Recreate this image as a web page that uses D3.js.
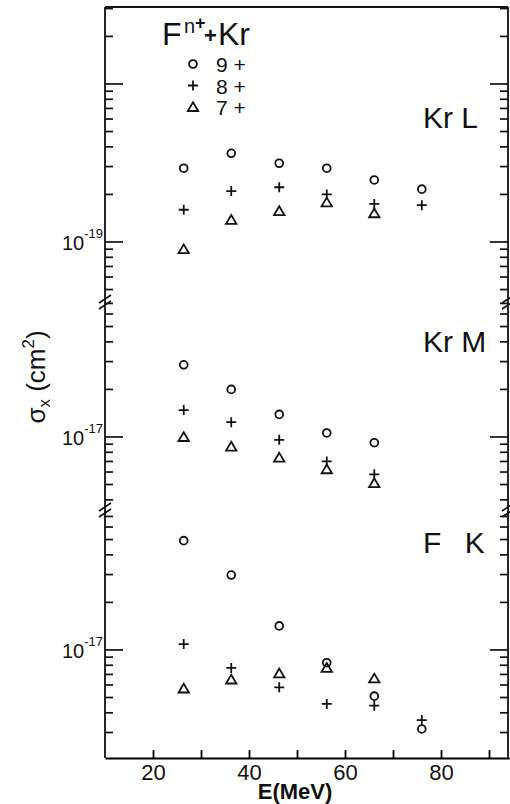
<!DOCTYPE html>
<html>
<head>
	<meta charset="utf-8">
	<style>
		body { margin: 0; background: #fff; }
		text { font-family: 'Liberation Sans', Arial, sans-serif; fill: #111; }
	</style>
</head>
<body>

	<div id="graph"></div>

	<script src="https://cdnjs.cloudflare.com/ajax/libs/d3/7.8.5/d3.min.js"></script>

	<script>
		// beam energies (MeV)
		const energies = [26.4, 36.3, 46.3, 56.2, 66.1, 76.0];

		// cross sections (cm^2), per charge state 9+, 8+, 7+
		const krL9 = [2.93e-19, 3.64e-19, 3.15e-19, 2.93e-19, 2.47e-19, 2.16e-19];
		const krL8 = [1.60e-19, 2.10e-19, 2.22e-19, 2.00e-19, 1.74e-19, 1.71e-19];
		const krL7 = [0.90e-19, 1.38e-19, 1.57e-19, 1.78e-19, 1.52e-19, null];

		const krM9 = [2.86e-17, 2.00e-17, 1.39e-17, 1.06e-17, 0.92e-17, null];
		const krM8 = [1.48e-17, 1.24e-17, 0.96e-17, 0.70e-17, 0.58e-17, null];
		const krM7 = [1.00e-17, 0.87e-17, 0.74e-17, 0.625e-17, 0.51e-17, null];

		const fK9 = [4.92e-17, 2.98e-17, 1.42e-17, 0.83e-17, 0.51e-17, 0.316e-17];
		const fK8 = [1.09e-17, 0.77e-17, 0.58e-17, 0.455e-17, 0.444e-17, 0.36e-17];
		const fK7 = [0.57e-17, 0.65e-17, 0.71e-17, 0.77e-17, 0.66e-17, null];

		const chargeStates = ['9 +', '8 +', '7 +'];
		const panelNames = ['Kr L', 'Kr M', 'F\u2002 K'];
		const panelSeries = [[krL9, krL8, krL7], [krM9, krM8, krM7], [fK9, fK8, fK7]];
		const panelExponents = ['-19', '-17', '-17'];
		const panelLabelValues = [1e-19, 1e-17, 1e-17];
		const panelDomains = [[4.17e-20, 3.07e-18], [3.45e-18, 7.15e-17], [2.07e-18, 7.69e-17]];

		const xTicks = [20, 30, 40, 50, 60, 70, 80, 90];
		const xTickLabels = [20, 40, 60, 80];

		// layout
		const W = 510;
		const H = 804;
		const plotLeft = 105;
		const plotRight = 508;
		const plotTop = 7;
		const plotBottom = 758;
		const breaks = [302, 510];
		const panelRanges = [[breaks[0], plotTop], [breaks[1], breaks[0]], [plotBottom, breaks[1]]];
		const nameOffsets = [121, 50, 43];
		const ink = '#111';

		const svg = d3.select('#graph')
			.append('svg')
			.attr('width', W)
			.attr('height', H);

		const x = d3.scaleLinear()
			.domain([10, 94.2])
			.range([plotLeft, plotLeft + 84.2 * 4.8]);

		const isDecade = v => Math.abs(Math.log10(v) - Math.round(Math.log10(v))) < 1e-6;

		// 1..9 x 10^n inside a log domain
		const logTicks = domain => d3.range(Math.floor(Math.log10(domain[0])), Math.ceil(Math.log10(domain[1])))
			.flatMap(e => d3.range(1, 10).map(k => k * Math.pow(10, e)))
			.filter(v => v >= domain[0] && v <= domain[1]);

		// x axis, ticks pointing inwards
		svg.append('g')
			.attr('transform', `translate(0, ${plotBottom})`)
			.call(d3.axisBottom(x)
				.tickValues(xTicks)
				.tickSize(-8)
				.tickSizeOuter(0)
				.tickPadding(6)
				.tickFormat(d => xTickLabels.includes(d) ? d : ''))
			.attr('stroke-width', 1.8)
			.attr('font-size', 22)
			.attr('font-family', "'Liberation Sans', Arial, sans-serif");

		svg.append('line')
			.attr('x1', plotLeft).attr('x2', plotRight)
			.attr('y1', plotTop).attr('y2', plotTop)
			.attr('stroke', ink).attr('stroke-width', 1.8);

		svg.append('text')
			.attr('x', 295)
			.attr('y', 799)
			.attr('text-anchor', 'middle')
			.attr('font-size', 22)
			.attr('font-weight', 'bold')
			.text('E(MeV)');

		const shapes = [
			g => g.append('circle').attr('r', 3.9),
			g => g.append('path').attr('d', 'M-5,0H5M0,-5V5'),
			g => g.append('path').attr('d', 'M0,-4.8L5.2,4L-5.2,4Z')
		];

		const drawMarker = (kind, cx, cy) => {
			const g = svg.append('g')
				.attr('transform', `translate(${cx}, ${cy})`)
				.attr('fill', 'none')
				.attr('stroke', ink)
				.attr('stroke-width', 1.8);
			shapes[kind](g);
		};

		panelDomains.forEach((domain, i) => {
			const y = d3.scaleLog().domain(domain).range(panelRanges[i]);
			const ticks = logTicks(domain);

			// axis lines
			svg.append('line')
				.attr('x1', plotLeft).attr('x2', plotLeft)
				.attr('y1', y.range()[0]).attr('y2', y.range()[1])
				.attr('stroke', ink).attr('stroke-width', 1.8);
			svg.append('line')
				.attr('x1', plotRight).attr('x2', plotRight)
				.attr('y1', y.range()[0]).attr('y2', y.range()[1])
				.attr('stroke', ink).attr('stroke-width', 1.8);

			// ticks on both sides, pointing inwards
			[[plotLeft, 1], [plotRight, -1]].forEach(([pos, dir]) => {
				svg.append('g')
					.selectAll('line')
					.data(ticks)
					.join('line')
					.attr('x1', pos)
					.attr('x2', d => pos + dir * (isDecade(d) ? 18 : 8))
					.attr('y1', d => y(d))
					.attr('y2', d => y(d))
					.attr('stroke', ink)
					.attr('stroke-width', 1.7);
			});

			const label = svg.append('text')
				.attr('x', 103)
				.attr('y', y(panelLabelValues[i]) + 8)
				.attr('text-anchor', 'end');
			label.append('tspan').attr('font-size', 20).text('10');
			label.append('tspan').attr('font-size', 13).attr('dy', -12).text(panelExponents[i]);

			svg.append('text')
				.attr('x', 423)
				.attr('y', y.range()[1] + nameOffsets[i])
				.attr('font-size', 30)
				.style('white-space', 'pre')
				.text(panelNames[i]);

			panelSeries[i].forEach((series, k) => {
				series.forEach((v, j) => {
					if (v === null) return;
					drawMarker(k, x(energies[j]), y(v));
				});
			});
		});

		// axis breaks
		breaks.forEach(b => {
			[plotLeft, plotRight].forEach(pos => {
				[-3, 3].forEach(off => {
					svg.append('line')
						.attr('x1', pos - 6).attr('y1', b + off + 4)
						.attr('x2', pos + 6).attr('y2', b + off - 4)
						.attr('stroke', ink)
						.attr('stroke-width', 1.6);
				});
			});
		});

		// title and legend
		const title = svg.append('g');
		title.append('text').attr('x', 162).attr('y', 45).attr('font-size', 32).text('F');
		title.append('text').attr('x', 184).attr('y', 33).attr('font-size', 20).text('n');
		title.append('text').attr('x', 195).attr('y', 29).attr('font-size', 18).attr('font-weight', 'bold').text('+');
		title.append('text').attr('x', 204).attr('y', 43).attr('font-size', 22).attr('font-weight', 'bold').text('+');
		title.append('text').attr('x', 218).attr('y', 45).attr('font-size', 32).text('Kr');

		chargeStates.forEach((c, k) => {
			const cy = 64 + k * 21.5;
			drawMarker(k, 193, cy);
			svg.append('text')
				.attr('x', 216)
				.attr('y', cy + 8)
				.attr('font-size', 21)
				.text(c);
		});

		// y axis title
		const yTitle = svg.append('text')
			.attr('transform', 'translate(45, 377) rotate(-90)')
			.attr('text-anchor', 'middle')
			.attr('font-size', 26);
		yTitle.append('tspan').text('σ');
		yTitle.append('tspan').attr('font-size', 17).attr('dy', 5).text('x');
		yTitle.append('tspan').attr('dy', -5).text(' (cm');
		yTitle.append('tspan').attr('font-size', 17).attr('dy', -11).text('2');
		yTitle.append('tspan').attr('dy', 11).text(')');

	</script>

</body>
</html>
